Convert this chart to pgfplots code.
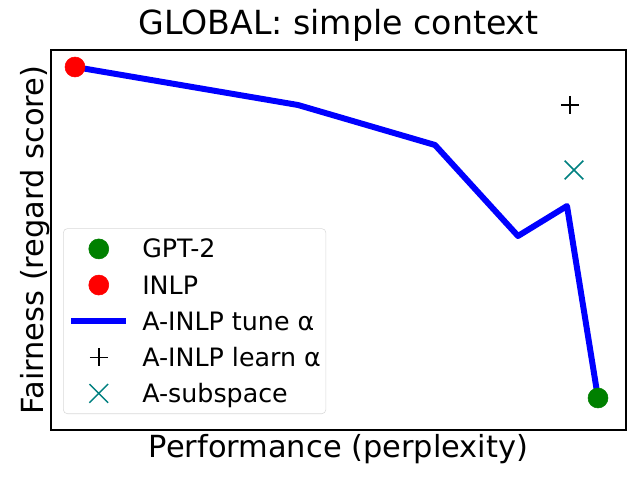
\documentclass[border=0pt]{standalone}
\usepackage{fontspec}
\setmainfont{DejaVu Sans}
\usepackage{pgfplots}
\pgfplotsset{compat=1.18}
\definecolor{mplgreen}{RGB}{0,128,0}
\definecolor{mplteal}{RGB}{0,128,128}
\begin{document}
\begin{tikzpicture}
\begin{axis}[
  at={(0,0)}, anchor=south west,
  scale only axis, width=5.75in, height=3.8in,
  xmin=51, xmax=626, ymin=50, ymax=430,
  xtick=\empty, ytick=\empty,
  axis line style={line width=0.8bp},
  title={GLOBAL: simple context},
  title style={font=\fontsize{24}{28}\selectfont, at={(axis description cs:0.5,1.02)}, anchor=base, inner sep=0pt},
  xlabel={Performance (perplexity)},
  xlabel style={font=\fontsize{22}{26}\selectfont, at={(axis description cs:0.5,-0.0711)}, anchor=base, inner sep=0pt},
  ylabel={Fairness (regard score)},
  ylabel style={font=\fontsize{22}{26}\selectfont, at={(axis description cs:-0.0139,0.5)}, rotate=0, anchor=base, inner sep=0pt},
  legend image code/.code={\draw[mark repeat=2,mark phase=2,#1] plot coordinates {(0in,0in)(0.275in,0in)(0.55in,0in)};},
  legend cell align=left,
  legend style={at={(axis description cs:0.0209,0.0421)}, anchor=south west,
    draw=black!15, rounded corners=3bp, fill=white,
    font=\fontsize{18.3}{22}\selectfont, inner xsep=0.05in, inner ysep=5.7pt,
    row sep=8.1pt, column sep=0.13in,
    nodes={inner sep=0pt, text height=15.5pt, text depth=2.5pt}},
]
\addplot[only marks, mark=*, mark size=7.2bp, color=mplgreen] coordinates {(598,82)};
\addlegendentry{GPT-2}
\addplot[only marks, mark=*, mark size=7.2bp, color=red] coordinates {(75,413)};
\addlegendentry{INLP}
\addplot[blue, line width=4.3bp, line join=round] coordinates {
  (75,413) (298,375) (435,335) (518,244) (567,274) (598,82)};
\addlegendentry{A-INLP tune α}
\addplot[only marks, mark=+, mark size=6.5bp, black, mark options={line width=1.1bp}] coordinates {(570,375)};
\addlegendentry{A-INLP learn α}
\addplot[only marks, mark=x, mark size=9.5bp, mplteal, mark options={line width=1.1bp}] coordinates {(574,310)};
\addlegendentry{A-subspace}
\end{axis}
\path (-0.51in,-0.50in) rectangle (5.89in,4.30in);
\end{tikzpicture}
\end{document}
